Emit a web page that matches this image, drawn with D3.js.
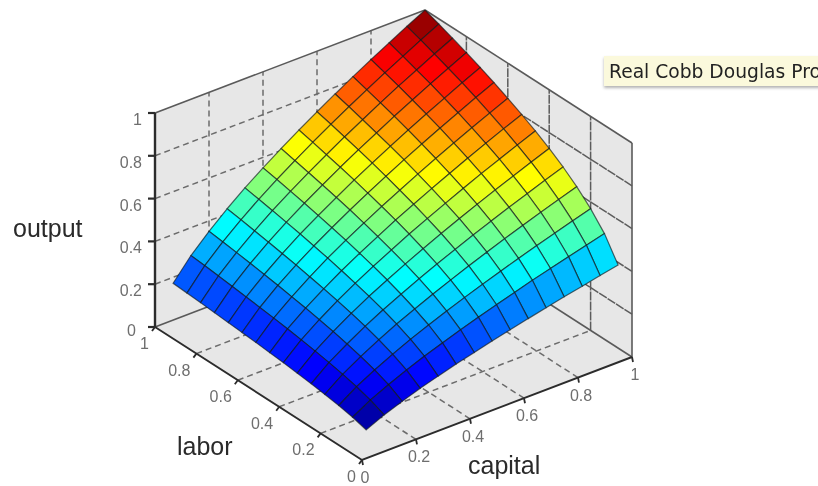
<!DOCTYPE html>
<html>
<head>
<meta charset="utf-8">
<script src="https://cdn.jsdelivr.net/npm/d3@7"></script>
<style>
  html, body { margin: 0; padding: 0; background: #fff; overflow: hidden; }
  svg { display: block; filter: blur(0.6px); }
  text { font-family: "Liberation Sans", Arial, sans-serif; }
</style>
</head>
<body>
<svg id="chart" width="818" height="486"></svg>
<script>
// values
const capitalGrid = [0.067, 0.133, 0.2, 0.267, 0.333, 0.4, 0.467, 0.533, 0.6, 0.667, 0.733, 0.8, 0.867, 0.933, 1];
const laborGrid = [0.067, 0.133, 0.2, 0.267, 0.333, 0.4, 0.467, 0.533, 0.6, 0.667, 0.733, 0.8, 0.867, 0.933, 1];
// one row per labor value, one column per capital value
const outputGrid = [
  [0.067, 0.105, 0.136, 0.165, 0.190, 0.214, 0.236, 0.258, 0.278, 0.298, 0.317, 0.336, 0.353, 0.371, 0.388],
  [0.085, 0.133, 0.173, 0.209, 0.242, 0.272, 0.301, 0.328, 0.354, 0.379, 0.404, 0.427, 0.450, 0.472, 0.494],
  [0.098, 0.154, 0.200, 0.241, 0.279, 0.314, 0.347, 0.378, 0.408, 0.437, 0.465, 0.492, 0.518, 0.544, 0.569],
  [0.108, 0.170, 0.221, 0.267, 0.309, 0.347, 0.384, 0.418, 0.452, 0.484, 0.515, 0.545, 0.574, 0.602, 0.630],
  [0.117, 0.184, 0.239, 0.289, 0.334, 0.375, 0.415, 0.452, 0.488, 0.523, 0.556, 0.589, 0.620, 0.651, 0.681],
  [0.125, 0.196, 0.255, 0.308, 0.356, 0.400, 0.442, 0.482, 0.521, 0.558, 0.593, 0.628, 0.661, 0.694, 0.726],
  [0.132, 0.207, 0.269, 0.325, 0.375, 0.422, 0.466, 0.509, 0.549, 0.588, 0.626, 0.663, 0.698, 0.732, 0.766],
  [0.138, 0.217, 0.282, 0.340, 0.393, 0.442, 0.488, 0.533, 0.575, 0.616, 0.655, 0.694, 0.731, 0.767, 0.802],
  [0.144, 0.226, 0.293, 0.354, 0.410, 0.461, 0.509, 0.555, 0.599, 0.642, 0.683, 0.723, 0.762, 0.799, 0.836],
  [0.149, 0.234, 0.305, 0.368, 0.425, 0.478, 0.529, 0.576, 0.622, 0.667, 0.709, 0.751, 0.791, 0.830, 0.868],
  [0.154, 0.242, 0.315, 0.380, 0.440, 0.494, 0.546, 0.596, 0.643, 0.689, 0.733, 0.776, 0.817, 0.858, 0.897],
  [0.159, 0.250, 0.325, 0.392, 0.453, 0.510, 0.563, 0.614, 0.663, 0.710, 0.756, 0.800, 0.843, 0.884, 0.925],
  [0.164, 0.257, 0.334, 0.403, 0.466, 0.524, 0.579, 0.631, 0.682, 0.730, 0.777, 0.823, 0.866, 0.909, 0.951],
  [0.168, 0.264, 0.343, 0.414, 0.478, 0.538, 0.594, 0.648, 0.700, 0.750, 0.797, 0.844, 0.889, 0.933, 0.976],
  [0.172, 0.270, 0.351, 0.424, 0.490, 0.551, 0.609, 0.664, 0.717, 0.768, 0.817, 0.865, 0.911, 0.956, 1],
];
const axisTicks = [0, 0.2, 0.4, 0.6, 0.8, 1];
const innerTicks = [0.2, 0.4, 0.6, 0.8];
const jetStops = [0, 0.125, 0.375, 0.625, 0.875, 1];
const jetColors = ['#000080', '#0000ff', '#00ffff', '#ffff00', '#ff0000', '#800000'];

const svg = d3.select('#chart');

// oblique view of the box, the three axes are plain linear scales
const capX = d3.scaleLinear().domain([0, 1]).range([0, 270]);
const capY = d3.scaleLinear().domain([0, 1]).range([0, -103]);
const labX = d3.scaleLinear().domain([0, 1]).range([0, -207]);
const labY = d3.scaleLinear().domain([0, 1]).range([0, -133]);
const zY = d3.scaleLinear().domain([0, 1]).range([0, -214]);

const project = (c, l, z) => [362 + capX(c) + labX(l), 460 + capY(c) + labY(l) + zY(z)];
const line = d3.line();
const outline = (pts) => `${line(pts.map((p) => project(p[0], p[1], p[2])))}Z`;

const minZ = d3.min(outputGrid, (row) => d3.min(row));
const maxZ = d3.max(outputGrid, (row) => d3.max(row));
const jet = d3.scaleLinear().domain(jetStops).range(jetColors).interpolate(d3.interpolateRgb);
const colorOf = (z) => jet((z - minZ) / (maxZ - minZ));

// box walls and floor
const walls = [
  [[0, 1, 0], [1, 1, 0], [1, 1, 1], [0, 1, 1]],
  [[1, 0, 0], [1, 1, 0], [1, 1, 1], [1, 0, 1]],
  [[0, 0, 0], [1, 0, 0], [1, 1, 0], [0, 1, 0]],
];
svg.append('g').selectAll('path')
  .data(walls)
  .join('path')
  .attr('d', outline)
  .attr('fill', '#e7e7e7');

// dashed grid on the walls and the floor
const drawGrid = (segments, dash, color, width) => {
  svg.append('g').selectAll('path')
    .data(segments)
    .join('path')
    .attr('d', (d) => line(d.map((p) => project(p[0], p[1], p[2]))))
    .attr('fill', 'none')
    .attr('stroke', color)
    .attr('stroke-width', width)
    .attr('stroke-dasharray', dash);
};

drawGrid(innerTicks.flatMap((t) => [
  [[t, 0, 0], [t, 1, 0]],
  [[0, t, 0], [1, t, 0]],
  [[t, 1, 0], [t, 1, 1]],
  [[0, 1, t], [1, 1, t]],
]), '6,4', '#6c6c6c', 1.5);
drawGrid(innerTicks.flatMap((t) => [
  [[1, t, 0], [1, t, 1]],
  [[1, 0, t], [1, 1, t]],
]), '9,1', '#5c5c5c', 1.5);

// back edges of the box
drawGrid([
  [[0, 1, 0], [1, 1, 0]],
  [[1, 0, 0], [1, 1, 0]],
  [[0, 1, 1], [1, 1, 1]],
  [[1, 0, 1], [1, 1, 1]],
  [[1, 0, 0], [1, 0, 1]],
], null, '#5a5a5a', 1.6);

// surface, back cells first
const cells = [];
for (let j = laborGrid.length - 2; j >= 0; j -= 1) {
  for (let i = capitalGrid.length - 2; i >= 0; i -= 1) {
    cells.push({ i, j });
  }
}
svg.append('g').selectAll('path')
  .data(cells)
  .join('path')
  .attr('d', ({ i, j }) => outline([
    [capitalGrid[i], laborGrid[j], outputGrid[j][i]],
    [capitalGrid[i + 1], laborGrid[j], outputGrid[j][i + 1]],
    [capitalGrid[i + 1], laborGrid[j + 1], outputGrid[j + 1][i + 1]],
    [capitalGrid[i], laborGrid[j + 1], outputGrid[j + 1][i]],
  ]))
  .attr('fill', ({ i, j }) => colorOf(outputGrid[j][i + 1]))
  .attr('stroke', '#10181c')
  .attr('stroke-opacity', 0.65)
  .attr('stroke-width', 1.2);

// front axes
const axes = svg.append('g').attr('fill', 'none').attr('stroke', '#2c2c2c');
axes.append('path').attr('stroke-width', 2.4)
  .attr('d', line([project(0, 1, 0), project(0, 1, 1)]));
axes.append('path').attr('stroke-width', 1.9)
  .attr('d', line([project(0, 1, 0), project(0, 0, 0), project(1, 0, 0)]));

axes.selectAll('.z-tick')
  .data(axisTicks)
  .join('path')
  .attr('class', 'z-tick')
  .attr('stroke-width', 2.2)
  .attr('d', (t) => {
    const [x, y] = project(0, 1, t);
    return line([[x - 7, y], [x, y]]);
  });
axes.selectAll('.l-tick')
  .data(axisTicks)
  .join('path')
  .attr('class', 'l-tick')
  .attr('stroke-width', 1.8)
  .attr('d', (t) => {
    const [x, y] = project(0, t, 0);
    return line([[x - 3, y + 4], [x, y]]);
  });
axes.selectAll('.c-tick')
  .data(axisTicks)
  .join('path')
  .attr('class', 'c-tick')
  .attr('stroke-width', 1.8)
  .attr('d', (t) => {
    const [x, y] = project(t, 0, 0);
    return line([[x + 1, y + 5], [x, y]]);
  });

// tick labels
const tickLabels = svg.append('g')
  .attr('fill', '#6e6e6e')
  .style('font-size', '16px');

tickLabels.selectAll('.z-label')
  .data(axisTicks)
  .join('text')
  .attr('class', 'z-label')
  .attr('text-anchor', 'end')
  .attr('x', (t) => (t === 0 ? 136 : 142))
  .attr('y', (t) => project(0, 1, t)[1] + (t === 0 ? 9 : 12))
  .text((t) => t);

tickLabels.selectAll('.l-label')
  .data(axisTicks)
  .join('text')
  .attr('class', 'l-label')
  .attr('text-anchor', 'end')
  .attr('x', (t) => project(0, t, 0)[0] - 6)
  .attr('y', (t) => project(0, t, 0)[1] + 22)
  .text((t) => t);

tickLabels.selectAll('.c-label')
  .data(axisTicks)
  .join('text')
  .attr('class', 'c-label')
  .attr('text-anchor', 'middle')
  .attr('x', (t) => project(t, 0, 0)[0] + 3)
  .attr('y', (t) => project(t, 0, 0)[1] + 23)
  .text((t) => t);

// axis titles
const titles = svg.append('g').attr('fill', '#2a2a2a').style('font-size', '25px');
titles.append('text').attr('x', 13).attr('y', 237).text('output');
titles.append('text').attr('x', 177).attr('y', 455).text('labor');
titles.append('text').attr('x', 468).attr('y', 474).text('capital');

// tooltip that runs off the window, as in the reference
const shadow = svg.append('defs').append('filter')
  .attr('id', 'tip-shadow')
  .attr('x', '-5%').attr('y', '-20%').attr('width', '110%').attr('height', '150%');
shadow.append('feDropShadow')
  .attr('dx', 0).attr('dy', 2).attr('stdDeviation', 1.8)
  .attr('flood-color', '#000').attr('flood-opacity', 0.3);

svg.append('rect')
  .attr('x', 604).attr('y', 56).attr('width', 240).attr('height', 30)
  .attr('fill', '#fbf9dc')
  .attr('filter', 'url(#tip-shadow)');
svg.append('text')
  .attr('x', 609).attr('y', 78)
  .attr('fill', '#222')
  .style('font-family', '"DejaVu Sans", sans-serif')
  .style('font-size', '18.7px')
  .text('Real Cobb Douglas Pro');
</script>
</body>
</html>
